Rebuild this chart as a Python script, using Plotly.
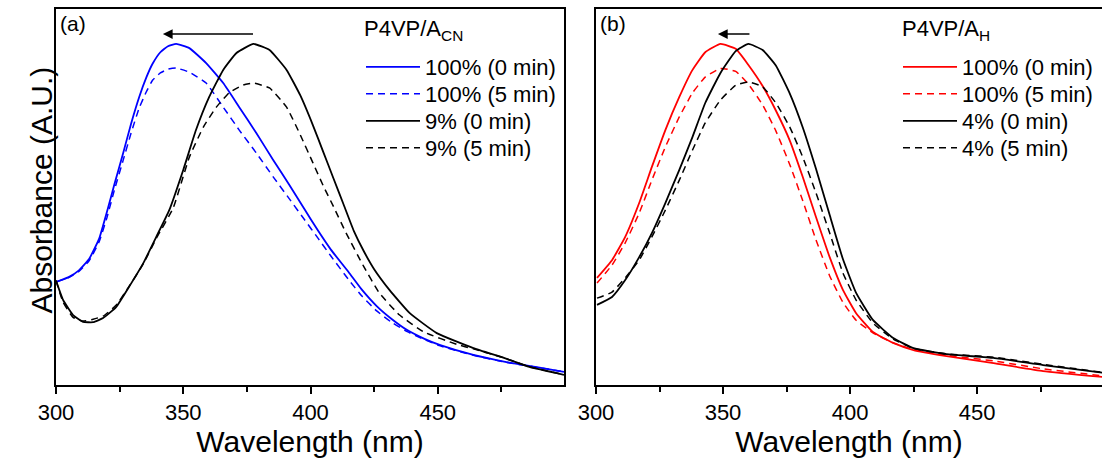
import plotly.graph_objects as go

# ---------------- data ----------------
# Panel (a): P4VP/A_CN
wl_a_blue = [300, 305, 309, 313, 317, 320, 323, 326.4, 329.5, 332.7, 335.5, 338, 341, 344, 347.2,
             352.4, 359, 365.7, 372, 378.7, 385.4, 391.7, 397.6, 403, 408, 415, 420, 426, 432,
             438, 445, 451, 464, 477, 490, 499.6]
a_blue_0 = [0.274, 0.287, 0.305, 0.335, 0.39, 0.46, 0.535, 0.617, 0.695, 0.766, 0.818, 0.855, 0.885,
            0.901, 0.907, 0.896, 0.856, 0.803, 0.739, 0.670, 0.598, 0.532, 0.468, 0.41, 0.36, 0.30,
            0.255, 0.21, 0.175, 0.146, 0.122, 0.106, 0.080, 0.061, 0.046, 0.035]
a_blue_5 = [0.274, 0.286, 0.302, 0.33, 0.382, 0.445, 0.52, 0.598, 0.67, 0.737, 0.78, 0.811, 0.83,
            0.84, 0.843, 0.832, 0.803, 0.739, 0.678, 0.617, 0.553, 0.495, 0.44, 0.39, 0.343, 0.28,
            0.238, 0.197, 0.166, 0.142, 0.12, 0.104, 0.079, 0.060, 0.046, 0.035]

wl_a_black0 = [300, 302.8, 306.7, 310.6, 314.6, 318.5, 323.6, 328.7, 334.3, 339.4, 344.5, 350, 355,
               360.2, 365.7, 370.9, 377.6, 383.9, 390.6, 396, 401, 405, 409, 413, 417, 421, 425,
               431, 439, 449.6, 464, 476, 486, 499.6]
a_black_0 = [0.278, 0.226, 0.186, 0.168, 0.167, 0.178, 0.207, 0.261, 0.324, 0.394, 0.465, 0.572,
             0.678, 0.766, 0.838, 0.883, 0.907, 0.891, 0.838, 0.77, 0.69, 0.62, 0.55, 0.48, 0.41,
             0.355, 0.308, 0.253, 0.191, 0.138, 0.098, 0.072, 0.048, 0.027]
wl_a_black5 = [300, 302.8, 306.7, 310.6, 314.6, 318.5, 323.6, 328.7, 334.3, 339.4, 346, 352.4, 357.9,
               363, 368, 373.6, 377.6, 383.9, 390.6, 396, 401, 405, 409, 414, 421, 427, 435, 444.5,
               457.5, 464, 476, 486, 499.6]
a_black_5 = [0.278, 0.22, 0.18, 0.17, 0.175, 0.183, 0.212, 0.262, 0.322, 0.39, 0.47, 0.606, 0.686,
             0.739, 0.777, 0.798, 0.803, 0.79, 0.739, 0.665, 0.59, 0.53, 0.475, 0.404, 0.314, 0.245,
             0.186, 0.141, 0.108, 0.096, 0.072, 0.049, 0.027]

# Panel (b): P4VP/A_H
wl_b = [300.4, 306.3, 311.5, 317, 322, 327.3, 332.8, 338, 343, 349, 355, 360, 365.6, 370.8,
        376.3, 381.4, 386.6, 392, 397.2, 402.4, 409, 417, 425, 438, 456.5, 476, 500]
b_red_0 = [0.285, 0.332, 0.394, 0.484, 0.58, 0.678, 0.766, 0.838, 0.885, 0.907, 0.894, 0.851, 0.795,
           0.730, 0.650, 0.553, 0.447, 0.34, 0.253, 0.191, 0.141, 0.112, 0.093, 0.077, 0.058, 0.037, 0.021]
b_red_5 = [0.271, 0.319, 0.378, 0.457, 0.545, 0.633, 0.713, 0.777, 0.819, 0.842, 0.834, 0.800, 0.745,
           0.676, 0.586, 0.490, 0.386, 0.29, 0.22, 0.172, 0.139, 0.112, 0.094, 0.079, 0.064, 0.043, 0.024]
b_black_0 = [0.213, 0.234, 0.279, 0.34, 0.404, 0.484, 0.572, 0.66, 0.75, 0.83, 0.888, 0.907, 0.891,
             0.85, 0.775, 0.685, 0.575, 0.452, 0.335, 0.245, 0.173, 0.125, 0.098, 0.082, 0.072, 0.053, 0.032]
b_black_5 = [0.231, 0.247, 0.285, 0.332, 0.394, 0.465, 0.545, 0.625, 0.697, 0.758, 0.797, 0.806, 0.793,
             0.75, 0.686, 0.606, 0.511, 0.404, 0.298, 0.226, 0.165, 0.122, 0.097, 0.083, 0.074, 0.055, 0.033]

labels_a = ["100% (0 min)", "100% (5 min)", "9% (0 min)", "9% (5 min)"]
labels_b = ["100% (0 min)", "100% (5 min)", "4% (0 min)", "4% (5 min)"]
legend_titles = ["P4VP/A<sub>CN</sub>", "P4VP/A<sub>H</sub>"]
x_ticks = [300, 350, 400, 450]

# ---------------- figure ----------------
W, H = 1102, 464
ML, MR, MT, MB = 56, 0, 9, 79
PW = W - ML - MR
PH = H - MT - MB

def px_x(p):
    return (p - ML) / PW

def px_y(p):
    return (H - MB - p) / PH

FONT = "Liberation Sans, Arial, sans-serif"
SOLID_W = 1.8
DASH_W = 1.5
DASH = "7px,5px"

fig = go.Figure()

def add(x, y, name, color, dash, xa, ya, leg):
    fig.add_trace(go.Scatter(
        x=x, y=y, name=name, mode="lines",
        line=dict(color=color, width=SOLID_W if dash is None else DASH_W,
                  dash=dash if dash else "solid", shape="spline", smoothing=0.4),
        xaxis=xa, yaxis=ya, legend=leg))

add(wl_a_blue, a_blue_0, labels_a[0], "#0000FF", None, "x", "y", "legend")
add(wl_a_blue, a_blue_5, labels_a[1], "#0000FF", DASH, "x", "y", "legend2")
add(wl_a_black0, a_black_0, labels_a[2], "#000000", None, "x", "y", "legend3")
add(wl_a_black5, a_black_5, labels_a[3], "#000000", DASH, "x", "y", "legend4")

add(wl_b, b_red_0, labels_b[0], "#FF0000", None, "x2", "y2", "legend5")
add(wl_b, b_red_5, labels_b[1], "#FF0000", DASH, "x2", "y2", "legend6")
add(wl_b, b_black_0, labels_b[2], "#000000", None, "x2", "y2", "legend7")
add(wl_b, b_black_5, labels_b[3], "#000000", DASH, "x2", "y2", "legend8")

xaxis_common = dict(
    tickvals=x_ticks, ticks="outside", ticklen=7, tickwidth=1.5, tickcolor="black",
    minor=dict(dtick=25, tick0=300, ticks="outside", ticklen=5, tickwidth=1.5, tickcolor="black"),
    showline=True, linecolor="black", linewidth=1.8, mirror=True,
    showgrid=False, zeroline=False,
    tickfont=dict(family=FONT, size=22, color="black"),
    title=dict(text="Wavelength (nm)", font=dict(family=FONT, size=30, color="black"), standoff=6),
)
yaxis_common = dict(
    range=[0, 1], showticklabels=False, ticks="", showgrid=False, zeroline=False,
    showline=True, linecolor="black", linewidth=1.8,
)

dom_a = [0, px_x(564)]
dom_b = [px_x(596), 1.0]

LEG_FONT = 22
row_y = [67, 94, 121, 148]

def legend_box(x_px, y_px):
    return dict(
        x=px_x(x_px), y=px_y(y_px), xanchor="left", yanchor="middle",
        bgcolor="rgba(0,0,0,0)", borderwidth=0,
        font=dict(family=FONT, size=LEG_FONT, color="black"),
        itemwidth=54, tracegroupgap=0,
    )

legends = {}
for i, yy in enumerate(row_y):
    legends["legend" if i == 0 else f"legend{i + 1}"] = legend_box(361, yy)
    legends[f"legend{i + 5}"] = legend_box(898, yy)

fig.update_layout(
    width=W, height=H,
    margin=dict(l=ML, r=MR, t=MT, b=MB),
    paper_bgcolor="white", plot_bgcolor="white",
    font=dict(family=FONT, color="black"),
    xaxis=dict(domain=dom_a, range=[300, 499.6], anchor="y", **xaxis_common),
    yaxis=dict(domain=[0, 1], anchor="x", mirror=True, **yaxis_common),
    xaxis2=dict(domain=dom_b, range=[300, 499.2], anchor="y2", **xaxis_common),
    yaxis2=dict(domain=[0, 1], anchor="x2", mirror=False, **yaxis_common),
    showlegend=True,
    **legends,
)

# legend titles
fig.add_annotation(text=legend_titles[0], xref="paper", yref="paper", x=px_x(362), y=px_y(30),
                   xanchor="left", yanchor="middle", showarrow=False,
                   font=dict(family=FONT, size=22, color="black"))
fig.add_annotation(text=legend_titles[1], xref="paper", yref="paper", x=px_x(900), y=px_y(30),
                   xanchor="left", yanchor="middle", showarrow=False,
                   font=dict(family=FONT, size=22, color="black"))
# y-axis title
fig.add_annotation(text="Absorbance (A.U.)", xref="paper", yref="paper",
                   x=px_x(22), y=px_y(190), textangle=-90, showarrow=False,
                   font=dict(family=FONT, size=30, color="black"))
# panel labels
fig.add_annotation(text="(a)", xref="paper", yref="paper", x=px_x(58), y=px_y(23),
                   xanchor="left", yanchor="middle", showarrow=False,
                   font=dict(family=FONT, size=21, color="black"))
fig.add_annotation(text="(b)", xref="paper", yref="paper", x=px_x(598), y=px_y(23),
                   xanchor="left", yanchor="middle", showarrow=False,
                   font=dict(family=FONT, size=21, color="black"))
# shift arrows
ya = px_y(34)
fig.add_annotation(x=342, y=ya, ax=378, ay=ya, xref="x", yref="y", axref="x", ayref="y",
                   showarrow=True, arrowhead=2, arrowsize=1.3, arrowwidth=1.5, arrowcolor="black", text="")
fig.add_annotation(x=348, y=ya, ax=361, ay=ya, xref="x2", yref="y2", axref="x2", ayref="y2",
                   showarrow=True, arrowhead=2, arrowsize=1.3, arrowwidth=1.5, arrowcolor="black", text="")

fig.write_html("out.html")
